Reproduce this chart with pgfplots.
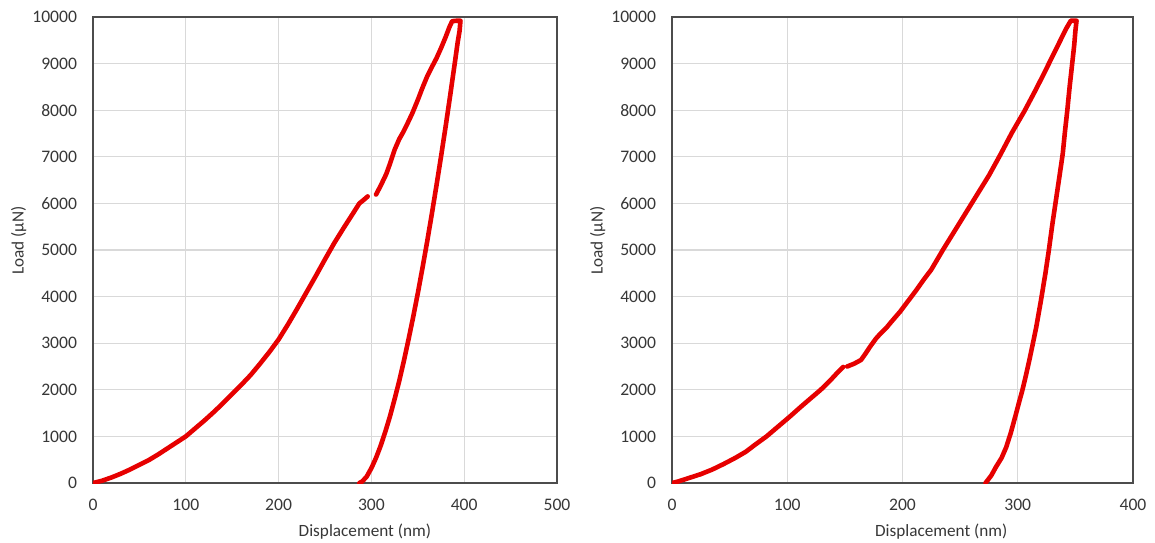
\documentclass[border=0pt]{standalone}
\usepackage{fontspec}
\setmainfont{Carlito}
\usepackage{pgfplots}
\pgfplotsset{compat=1.18}

\definecolor{curve}{RGB}{230,0,0}
\definecolor{gridc}{RGB}{217,217,217}
\definecolor{txt}{RGB}{55,55,55}

\pgfplotsset{
  lp/.style={
    scale only axis, height=233pt,
    ymin=0, ymax=10000, ytick={0,1000,...,10000},
    grid=major, grid style={gridc, line width=0.6pt},
    axis line style={black!70, line width=0.7pt},
    major tick length=0pt,
    scaled ticks=false,
    /pgf/number format/set thousands separator={},
    /pgf/number format/assume math mode=true,
    tick label style={font=\fontsize{8.8}{10}\selectfont, text=txt},
    label style={font=\fontsize{8.6}{10}\selectfont, text=txt},
    xticklabel style={yshift=-4.5pt},
    yticklabel style={xshift=-4.5pt},
    xlabel={Displacement (nm)},
    ylabel={Load (µN)},
  },
  ld/.style={curve, line width=2.3pt, line join=round, line cap=round},
}

\begin{document}
\begin{tikzpicture}
\path[use as bounding box] (-46.5pt,-29.5pt) rectangle (531pt,241.5pt);

\begin{axis}[lp, width=232pt, xmin=0, xmax=500, xtick={0,100,...,500},
  x label style={at={(axis description cs:0.586,-0.105)}, anchor=center},
  y label style={at={(axis description cs:-0.160,0.52)}, anchor=center}]
  % loading, up to the pop-in
  \addplot[ld] coordinates {
    (0,0) (10,50) (20,120) (30,200) (40,290) (50,390) (60,490) (70,610)
    (80,740) (90,870) (100,1000) (110,1170) (120,1340) (130,1520) (140,1710)
    (150,1910) (160,2110) (170,2320) (180,2560) (190,2810) (200,3080)
    (210,3400) (220,3740) (230,4090) (240,4440) (250,4800) (260,5150)
    (270,5470) (280,5780) (287,6000) (292,6080) (296,6150)
  };
  % loading after the pop-in, hold and unloading
  \addplot[ld] coordinates {
    (305,6190) (310,6380) (316,6630) (320,6850) (325,7150) (330,7380)
    (334,7520) (339,7720) (344,7930) (350,8220) (355,8480) (360,8720)
    (365,8920) (370,9110) (375,9330) (380,9570) (384,9780) (387,9910)
    (392,9920) (396,9920)
    (395,9700) (393,9460) (390,9030) (385,8330) (380,7650) (375,7000)
    (370,6370) (365,5760) (360,5170) (355,4610) (350,4070) (345,3560)
    (340,3080) (335,2620) (330,2190) (325,1800) (320,1430) (315,1100)
    (310,800) (305,540) (300,320) (295,140) (290,30) (287,0)
  };
\end{axis}

\begin{axis}[lp, at={(289.5pt,0pt)}, width=230.5pt, xmin=0, xmax=400, xtick={0,100,...,400},
  x label style={at={(axis description cs:0.584,-0.105)}, anchor=center},
  y label style={at={(axis description cs:-0.161,0.52)}, anchor=center}]
  \addplot[ld] coordinates {
    (0,0) (5,30) (15,110) (25,190) (35,290) (45,410) (55,540) (64,670)
    (72,820) (82,1000) (92,1210) (102,1420) (112,1640) (120,1810)
    (129,2000) (138,2220) (144,2380) (148.5,2490)
  };
  \addplot[ld] coordinates {
    (152,2500) (158,2560) (164,2640) (168,2780) (172,2930) (177,3100)
    (181,3210) (186,3330) (190,3450) (198,3680) (205,3910) (212,4140)
    (218,4350) (225,4580) (235,5000) (242,5280) (249,5560) (257,5880)
    (265,6200) (275,6600) (285,7050) (295,7520) (306,7990) (315,8410)
    (322,8750) (330,9150) (336,9450) (342,9750) (346,9920) (351,9920)
    (350,9700) (349,9400) (347.5,9060) (345,8500) (343,8000) (341,7550)
    (339,7060) (336,6550) (333,6050) (330,5550) (327,5000) (324,4500)
    (320,3900) (316,3340) (313,2980) (310,2630) (307,2300) (304,1990)
    (301,1720) (298,1440) (294,1080) (290,770) (286,540) (281,340)
    (277,160) (272,0)
  };
\end{axis}
\end{tikzpicture}
\end{document}
